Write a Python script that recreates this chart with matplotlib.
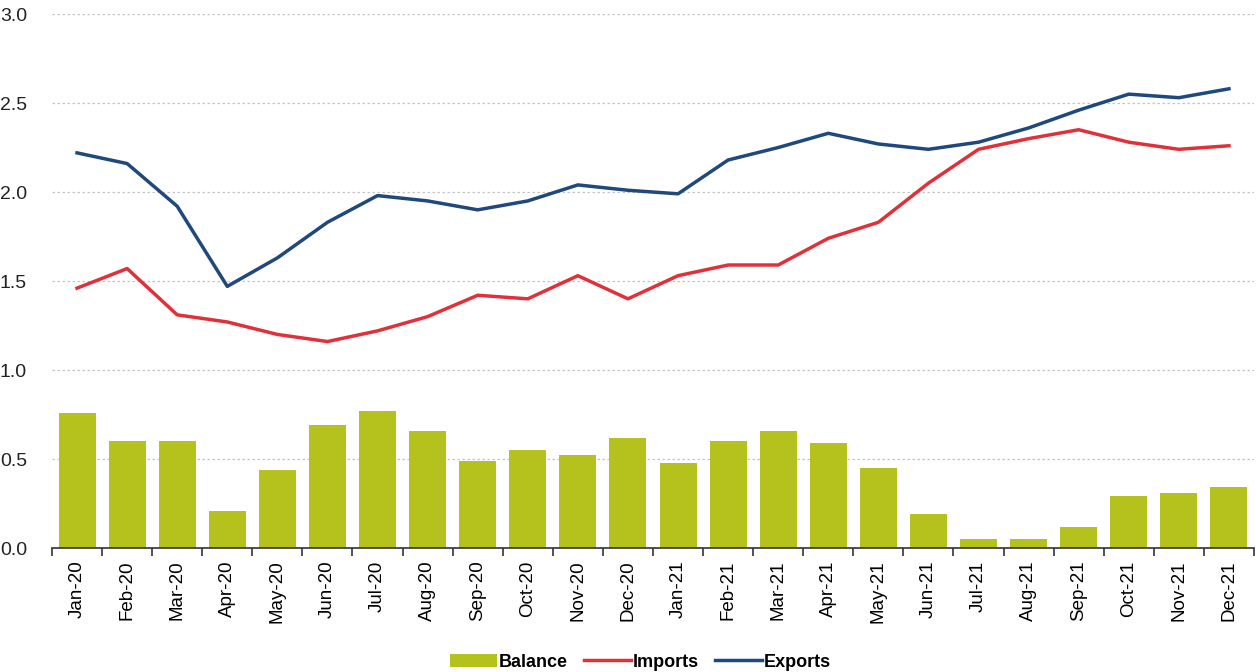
import matplotlib.pyplot as plt
import numpy as np

plt.rcParams['font.family'] = ['Liberation Sans', 'DejaVu Sans']

months = ['Jan-20', 'Feb-20', 'Mar-20', 'Apr-20', 'May-20', 'Jun-20', 'Jul-20', 'Aug-20',
          'Sep-20', 'Oct-20', 'Nov-20', 'Dec-20', 'Jan-21', 'Feb-21', 'Mar-21', 'Apr-21',
          'May-21', 'Jun-21', 'Jul-21', 'Aug-21', 'Sep-21', 'Oct-21', 'Nov-21', 'Dec-21']
exports = [2.22, 2.16, 1.92, 1.47, 1.63, 1.83, 1.98, 1.95, 1.90, 1.95, 2.04, 2.01,
           1.99, 2.18, 2.25, 2.33, 2.27, 2.24, 2.28, 2.36, 2.46, 2.55, 2.53, 2.58]
imports = [1.46, 1.57, 1.31, 1.27, 1.20, 1.16, 1.22, 1.30, 1.42, 1.40, 1.53, 1.40,
           1.53, 1.59, 1.59, 1.74, 1.83, 2.05, 2.24, 2.30, 2.35, 2.28, 2.24, 2.26]
balance = [0.76, 0.60, 0.60, 0.21, 0.44, 0.69, 0.77, 0.66, 0.49, 0.55, 0.52, 0.62,
           0.48, 0.60, 0.66, 0.59, 0.45, 0.19, 0.05, 0.05, 0.12, 0.29, 0.31, 0.34]

fig = plt.figure(figsize=(12.56, 6.72), dpi=100)
ax = fig.add_axes([0.0414, 0.1845, 0.9570, 0.7946])

x = np.arange(len(months))
b = ax.bar(x, balance, width=0.74, color='#B5C21E', label='Balance', zorder=2)
l1, = ax.plot(x, imports, color='#E0313B', lw=2.5, label='Imports', zorder=3)
l2, = ax.plot(x, exports, color='#1F487C', lw=2.5, label='Exports', zorder=3)

ax.set_xlim(-0.5, len(months) - 0.5)
ax.set_ylim(0, 3.0)
ax.set_yticks(np.arange(0, 3.01, 0.5))
ax.set_yticklabels(['%.1f' % v for v in np.arange(0, 3.01, 0.5)], fontsize=14, color='#222222')
ax.yaxis.grid(True, linestyle=(0, (2, 2)), color='#C4C4C4', lw=0.9, zorder=0)
ax.tick_params(axis='y', length=0, pad=18)

ax.set_xticks(x)
ax.set_xticklabels(months, rotation=90, fontsize=13.5)
ax.set_xticks(np.arange(-0.5, len(months), 1), minor=True)
ax.tick_params(axis='x', which='major', length=0, pad=9)
ax.tick_params(axis='x', which='minor', length=6, width=1.2, color='#333333')

for s in ['top', 'right', 'left']:
    ax.spines[s].set_visible(False)
ax.spines['bottom'].set_color('#333333')
ax.spines['bottom'].set_linewidth(1.2)

fig.legend([b, l1, l2], ['Balance', 'Imports', 'Exports'], loc='lower center',
           bbox_to_anchor=(0.51, -0.022), ncol=3, frameon=False,
           prop={'weight': 'bold', 'size': 13}, handlelength=2.6, handletextpad=0.1,
           columnspacing=0.9)

fig.savefig('out.png', dpi=100)
